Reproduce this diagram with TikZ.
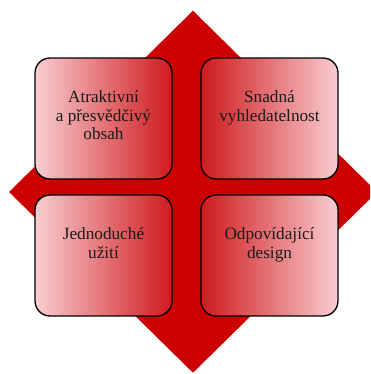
\documentclass[tikz,border=0pt]{standalone}
\usepackage{fontspec}
\setmainfont{Liberation Serif}
\usepackage{xcolor}
\usepackage{tikz}
\usetikzlibrary{positioning,calc}
\definecolor{WebRed}{HTML}{CC0000}
\definecolor{WebDark}{HTML}{CF1A1E}
\definecolor{WebPale}{HTML}{F9CDD1}
\definecolor{WebInk}{HTML}{1A1A1A}

\begin{document}
\begin{tikzpicture}[x=0.02cm,y=-0.02cm,line join=round,
    box/.style={draw=black,line width=0.75pt,rounded corners=0.3cm,
      minimum width=2.74cm,minimum height=2.42cm,inner sep=0pt},
    tolight/.style={box,left color=WebDark,right color=WebPale},
    todark/.style={box,left color=WebPale,right color=WebDark},
    txt/.style={align=center,inner sep=0pt,text=WebInk,
      font=\rmfamily\fontsize{9.8}{10.6}\selectfont}]
  \path[use as bounding box] (0,0) rectangle (370,374);

  % Red diamond behind the four quadrants.
  \begin{scope}
    \clip (0,0) rectangle (370,374);
    \fill[WebRed] (193,10.7) -- (377,192) -- (193,372.7) -- (9,192) -- cycle;
  \end{scope}

  % Four quadrant boxes.
  \node[todark]  (obsah)  at (103.5,118.5) {};
  \node[tolight] (hledat) at (269.5,118.5) {};
  \node[todark]  (uziti)  at (103.5,255.5) {};
  \node[tolight] (design) at (269.5,255.5) {};

  % Texts hang from the top edge of each box.
  \node[txt,below=0.66cm of obsah.north]  (obsahT)
    {Atraktivní\\a přesvědčivý\\obsah};
  \node[txt,below=0.66cm of hledat.north] (hledatT)
    {Snadná\\vyhledatelnost};
  \node[txt,below=0.66cm of uziti.north]  (uzitiT)
    {Jednoduché\\užití};
  \node[txt,below=0.66cm of design.north] (designT)
    {Odpovídající\\design};
\end{tikzpicture}
\end{document}
